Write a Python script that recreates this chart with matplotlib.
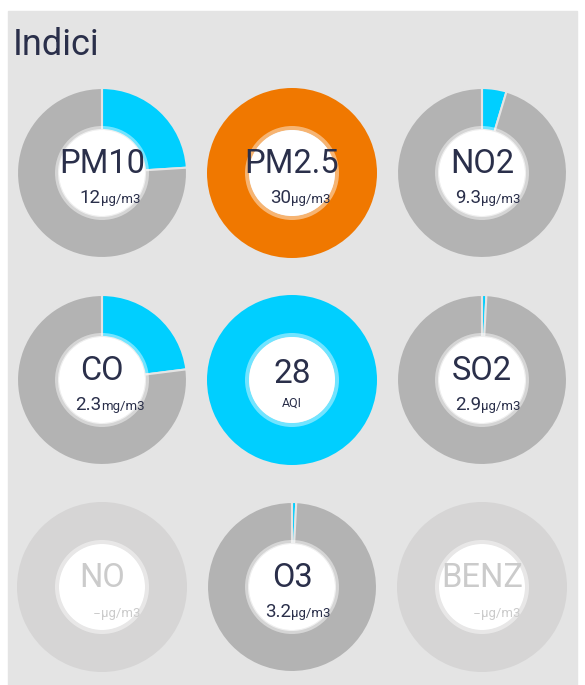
import matplotlib.pyplot as plt
from matplotlib.patches import Rectangle, Circle, Wedge

plt.rcParams['font.family'] = ['Roboto', 'DejaVu Sans']

# pollutant tiles, row by row
labels = ["PM10", "PM2.5", "NO2", "CO", "28", "SO2", "NO", "O3", "BENZ"]
values = ["12", "30", "9.3", "2.3", "", "2.9", "--", "3.2", "--"]
units = ["µg/m3", "µg/m3", "µg/m3", "mg/m3", "AQI", "µg/m3", "µg/m3", "µg/m3", "µg/m3"]
levels = [12, 30, 9.3, 2.3, 28, 2.9, None, 3.2, None]
limits = [50, 25, 200, 10, 28, 350, None, 400, None]

W, H = 585, 685
panel_col = "#e4e4e4"
cyan = "#00cfff"
orange = "#f07800"
grey = "#b3b3b3"
off_ring = "#d6d5d5"
off_text = "#cbcbcb"
ink = "#2a2f4a"

fig = plt.figure(figsize=(W / 100, H / 100), dpi=100)
ax = fig.add_axes([0, 0, 1, 1])

ax.add_patch(Rectangle((8, 0), 569, H - 11, color=panel_col, zorder=0))
ax.text(13, H - 55, "Indici", fontsize=26, color=ink, ha="left", va="baseline")

col_x = [102, 292, 482]
row_y = [173, 380, 587]
r_out, r_band, r_in = 85, 47, 43

for i, lab in enumerate(labels):
    cx = col_x[i % 3]
    cy = H - row_y[i // 3]
    lvl, lim = levels[i], limits[i]
    txt_col = ink
    if lvl is None:
        sizes, cols, lw = [1], [off_ring], 0
        txt_col = off_text
    else:
        frac = lvl / lim
        if frac >= 1:
            sizes = [1]
            cols = [orange if i < 4 else cyan]
            lw = 0
        else:
            sizes, cols, lw = [frac, 1 - frac], [cyan, grey], 1.5
    ax.pie(sizes, colors=cols, center=(cx, cy), radius=r_out, startangle=90,
           counterclock=False,
           wedgeprops=dict(width=r_out - r_in, edgecolor=panel_col, linewidth=lw))
    # lighter band and white centre
    ax.add_patch(Wedge((cx, cy), r_band, 0, 360, width=r_band - r_in,
                       facecolor="white", alpha=0.45, linewidth=0, zorder=3))
    ax.add_patch(Circle((cx, cy), r_in, facecolor="white", linewidth=0, zorder=4))

    if units[i] == "AQI":
        ax.text(cx, cy - 3, lab, fontsize=24, color=txt_col, ha="center",
                va="baseline", zorder=5)
        ax.text(cx, cy - 27, units[i], fontsize=9, color=txt_col, ha="center",
                va="baseline", zorder=5)
        continue
    ax.text(cx, cy, lab, fontsize=23.5, color=txt_col, ha="center",
            va="baseline", zorder=5)
    vsize = 13.5 if values[i] != "--" else 9
    ax.text(cx - 1, cy - 30, values[i], fontsize=vsize, color=txt_col, ha="right",
            va="baseline", zorder=5)
    ax.text(cx - 1, cy - 30, units[i], fontsize=9.5, color=txt_col, ha="left",
            va="baseline", zorder=5)

ax.set_xlim(0, W)
ax.set_ylim(0, H)
ax.set_aspect("equal")
ax.axis("off")

fig.savefig("out.png", dpi=100, facecolor="white")
